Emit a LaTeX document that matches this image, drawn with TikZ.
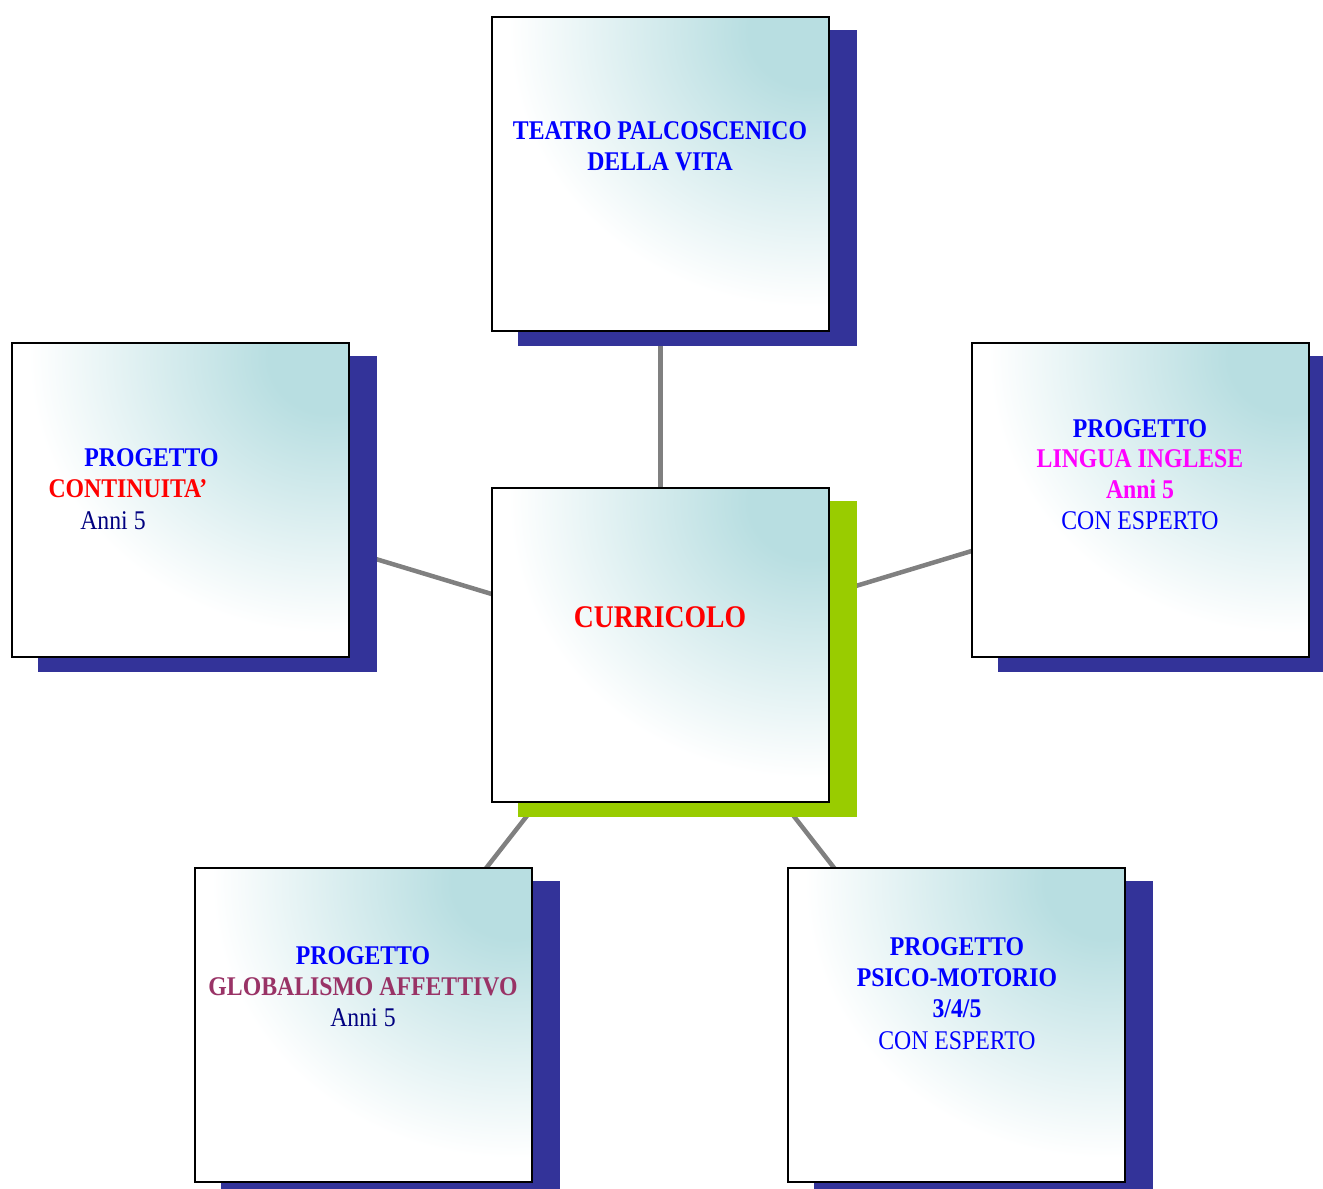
\documentclass[tikz,border=0pt]{standalone}
\usepackage{fontspec}
\setmainfont{Liberation Serif}[FakeStretch=0.88]
\definecolor{glowc}{RGB}{184,222,225}
\definecolor{shblue}{RGB}{51,51,153}
\definecolor{shgreen}{RGB}{153,204,0}
\definecolor{pblue}{RGB}{0,0,255}
\definecolor{pred}{RGB}{255,0,0}
\definecolor{pnavy}{RGB}{0,0,128}
\definecolor{pmag}{RGB}{255,0,255}
\definecolor{pplum}{RGB}{153,51,102}
\definecolor{conngray}{RGB}{128,128,128}
\pgfdeclareradialshading{glow}{\pgfpointorigin}{color(0bp)=(glowc); color(5bp)=(glowc); color(25bp)=(white); color(50bp)=(white)}
\pgfdeclarelayer{lines}
\pgfdeclarelayer{shadows}
\pgfsetlayers{lines,shadows,main}
\begin{document}
\begin{tikzpicture}[x=1pt,y=-1pt,
  box/.style={draw=black, line width=2pt, minimum width=337pt, minimum height=314pt, inner sep=0pt,
    path picture={\fill[white] (path picture bounding box.south west) rectangle (path picture bounding box.north east);
      \shade[shading=glow] ([xshift=-20pt,yshift=-15pt]path picture bounding box.north east) ellipse [x radius=300pt, y radius=275pt];}},
  conn/.style={draw=conngray, line width=4.5pt},
  txt/.style={anchor=base, inner sep=0pt, font=\fontsize{27pt}{31pt}\selectfont},
  big/.style={anchor=base, inner sep=0pt, font=\fontsize{31.5pt}{36pt}\selectfont\bfseries}]
\useasboundingbox (0,0) rectangle (1323,1189);

% boxes
\node[box] (nT) at (660.5,174) {};
\node[box] (nL) at (180.5,500) {};
\node[box] (nC) at (660.5,645) {};
\node[box] (nR) at (1140.5,500) {};
\node[box] (nBL) at (363.5,1025) {};
\node[box] (nBR) at (956.5,1025) {};

% shadows
\begin{pgfonlayer}{shadows}
\foreach \n in {nT,nL,nR,nBL,nBR}
  \fill[shblue] ([xshift=26.5pt,yshift=-13.5pt]\n.north west) rectangle ([xshift=26.5pt,yshift=-13.5pt]\n.south east);
\fill[shgreen] ([xshift=26.5pt,yshift=-13.5pt]nC.north west) rectangle ([xshift=26.5pt,yshift=-13.5pt]nC.south east);
\end{pgfonlayer}

% connectors
\begin{pgfonlayer}{lines}
\draw[conn] (nC.center) -- (nT.center);
\draw[conn] (nC.center) -- (nL.center);
\draw[conn] (nC.center) -- (nR.center);
\draw[conn] (nC.center) -- (nBL.center);
\draw[conn] (nC.center) -- (nBR.center);
\end{pgfonlayer}

% texts: top
\node[txt, text=pblue] (tT1) at (660,139) {\bfseries TEATRO PALCOSCENICO};
\node[txt, text=pblue] (tT2) at (660,170) {\bfseries DELLA VITA};
% left
\node[txt, text=pblue] (tL1) at (151.5,466) {\bfseries PROGETTO};
\node[txt, text=pred] (tL2) at (128,497) {\bfseries CONTINUITA’};
\node[txt, text=pnavy] (tL3) at (113,529) {Anni 5};
% center
\node[big, text=pred] (tC) at (660,627) {CURRICOLO};
% right
\node[txt, text=pblue] (tR1) at (1140,437) {\bfseries PROGETTO};
\node[txt, text=pmag] (tR2) at (1140,467) {\bfseries LINGUA INGLESE};
\node[txt, text=pmag] (tR3) at (1140,498) {\bfseries Anni 5};
\node[txt, text=pblue] (tR4) at (1140,529) {CON ESPERTO};
% bottom left
\node[txt, text=pblue] (tBL1) at (363,964) {\bfseries PROGETTO};
\node[txt, text=pplum] (tBL2) at (363,995) {\bfseries GLOBALISMO AFFETTIVO};
\node[txt, text=pnavy] (tBL3) at (363,1026) {Anni 5};
% bottom right
\node[txt, text=pblue] (tBR1) at (957,955) {\bfseries PROGETTO};
\node[txt, text=pblue] (tBR2) at (957,986) {\bfseries PSICO-MOTORIO};
\node[txt, text=pblue] (tBR3) at (957,1017) {\bfseries 3/4/5};
\node[txt, text=pblue] (tBR4) at (957,1049) {CON ESPERTO};
\end{tikzpicture}
\end{document}
